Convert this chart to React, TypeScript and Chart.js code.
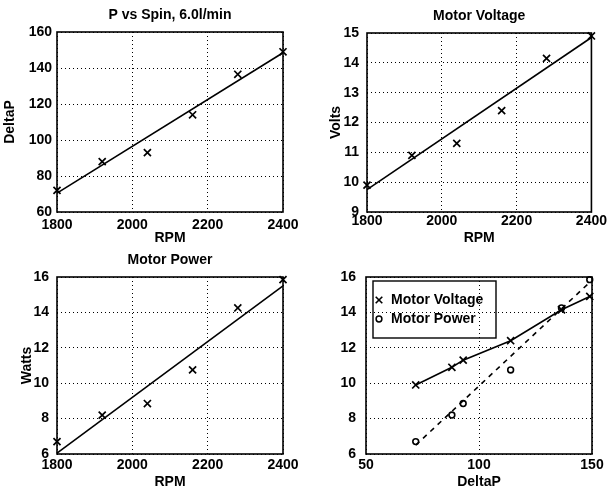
import React, { useEffect, useRef } from "react";
import { Chart, registerables } from "chart.js";

Chart.register(...registerables);

// ---- data ----
const rpm = [1800, 1920, 2040, 2160, 2280, 2400];
const deltaP = [72, 88, 93, 114, 136.5, 149];
const volts = [9.9, 10.9, 11.3, 12.4, 14.15, 14.9];
const watts = [6.7, 8.2, 8.85, 10.75, 14.25, 15.85];

const rpmFitEnds = [1800, 2400];
const deltaPFitEnds = [70.5, 148.5];
const voltsFitEnds = [9.75, 14.85];
const wattsFitEnds = [6.05, 15.5];

const powerFitDeltaPEnds = [72, 149];
const powerFitWattsEnds = [6.5, 15.7];

const panelTitles = ["P vs Spin, 6.0l/min", "Motor Voltage", "Motor Power", ""];
const xTitles = ["RPM", "RPM", "RPM", "DeltaP"];
const yTitles = ["DeltaP", "Volts", "Watts", ""];
const legendLabels = ["Motor Voltage", "Motor Power"];

const FONT_FAMILY = "'Liberation Sans', Arial, Helvetica, sans-serif";
const FONT_SIZE = 14;
const FONT_WEIGHT = "bold";

const pts = (xs: number[], ys: number[]) => xs.map((x, i) => ({ x, y: ys[i] }));

const crossSet = (xs: number[], ys: number[], showLine = false) => ({
  data: pts(xs, ys),
  showLine,
  borderColor: "#000",
  backgroundColor: "#000",
  borderWidth: 1.6,
  pointStyle: "crossRot",
  pointRadius: 5,
  pointBorderWidth: 1.7,
  clip: false,
});

const fitSet = (xs: number[], ys: number[], dash: number[] = []) => ({
  data: pts(xs, ys),
  showLine: true,
  borderColor: "#000",
  borderWidth: 1.6,
  borderDash: dash,
  pointRadius: 0,
  clip: false,
});

const circleSet = (xs: number[], ys: number[]) => ({
  data: pts(xs, ys),
  showLine: false,
  borderColor: "#000",
  backgroundColor: "rgba(0,0,0,0)",
  pointStyle: "circle",
  pointRadius: 2.9,
  pointBorderWidth: 1.6,
  clip: false,
});

const framePlugin = {
  id: "frame",
  afterDraw(chart: any, _args: any, opts: any) {
    const { ctx, chartArea: a } = chart;
    ctx.save();
    ctx.strokeStyle = "#000";
    ctx.lineWidth = 1.6;
    ctx.setLineDash([]);
    ctx.strokeRect(a.left, a.top, a.right - a.left, a.bottom - a.top);
    ctx.fillStyle = "#000";
    ctx.font = `${FONT_WEIGHT} ${FONT_SIZE}px ${FONT_FAMILY}`;
    if (opts.title) {
      ctx.textAlign = "center";
      ctx.textBaseline = "middle";
      ctx.fillText(opts.title, (a.left + a.right) / 2, a.top - 17);
    }
    if (opts.legend) {
      const bx = a.left + 7;
      const by = a.top + 4;
      const bw = 123;
      const bh = 57;
      ctx.lineWidth = 1.4;
      ctx.strokeRect(bx, by, bw, bh);
      ctx.textAlign = "left";
      ctx.textBaseline = "middle";
      const rows = [by + 19, by + 38];
      const mx = bx + 6;
      const r = 3.3;
      ctx.lineWidth = 1.6;
      ctx.beginPath();
      ctx.moveTo(mx - r, rows[0] - r);
      ctx.lineTo(mx + r, rows[0] + r);
      ctx.moveTo(mx - r, rows[0] + r);
      ctx.lineTo(mx + r, rows[0] - r);
      ctx.stroke();
      ctx.lineWidth = 1.5;
      ctx.beginPath();
      ctx.arc(mx, rows[1], 2.9, 0, Math.PI * 2);
      ctx.stroke();
      ctx.fillText(legendLabels[0], bx + 18, rows[0]);
      ctx.fillText(legendLabels[1], bx + 18, rows[1]);
    }
    ctx.restore();
  },
};

type Geom = {
  left: number;
  top: number;
  w: number;
  h: number;
  padLeft: number;
  areaLeft: number;
  areaTop: number;
  areaRight: number;
  areaBottom: number;
  yTickPad: number;
  xTickPad: number;
};

type PanelProps = {
  geom: Geom;
  title: string;
  xTitle: string;
  yTitle: string;
  xRange: number[];
  yRange: number[];
  datasets: any[];
  legend?: boolean;
};

function Panel({ geom, title, xTitle, yTitle, xRange, yRange, datasets, legend }: PanelProps) {
  const ref = useRef<HTMLCanvasElement | null>(null);
  useEffect(() => {
    if (!ref.current) return;
    const font = { family: FONT_FAMILY, size: FONT_SIZE, weight: FONT_WEIGHT as any };
    const titleFont = { family: FONT_FAMILY, size: FONT_SIZE, weight: FONT_WEIGHT as any, lineHeight: 1 };
    const plain = (v: any) => String(v);
    const chart = new Chart(ref.current, {
      type: "scatter",
      data: { datasets },
      plugins: [framePlugin],
      options: {
        animation: false,
        responsive: false,
        devicePixelRatio: 1,
        layout: {
          padding: {
            left: geom.padLeft,
            top: geom.areaTop,
            right: geom.w - geom.areaRight,
            bottom: 0,
          },
        },
        plugins: {
          legend: { display: false },
          tooltip: { enabled: false },
          frame: { title, legend: !!legend },
        } as any,
        scales: {
          x: {
            type: "linear",
            min: xRange[0],
            max: xRange[1],
            afterBuildTicks: (s: any) => {
              const t = [];
              for (let v = xRange[0]; v <= xRange[1] + 1e-9; v += xRange[2]) t.push({ value: v });
              s.ticks = t;
            },
            afterFit: (s: any) => {
              s.height = geom.h - geom.areaBottom;
            },
            ticks: { font, color: "#000", padding: geom.xTickPad, maxRotation: 0, autoSkip: false, callback: plain },
            grid: { color: "#000", lineWidth: 1, drawTicks: false },
            border: { display: false, dash: [1, 3] },
            title: { display: !!xTitle, text: xTitle, font: titleFont, color: "#000", padding: 0 },
          },
          y: {
            type: "linear",
            min: yRange[0],
            max: yRange[1],
            afterBuildTicks: (s: any) => {
              const t = [];
              for (let v = yRange[0]; v <= yRange[1] + 1e-9; v += yRange[2]) t.push({ value: v });
              s.ticks = t;
            },
            afterFit: (s: any) => {
              s.width = geom.areaLeft - geom.padLeft;
            },
            ticks: { font, color: "#000", padding: geom.yTickPad, autoSkip: false, callback: plain },
            grid: { color: "#000", lineWidth: 1, drawTicks: false },
            border: { display: false, dash: [1, 3] },
            title: { display: !!yTitle, text: yTitle, font: titleFont, color: "#000", padding: 0 },
          },
        },
      } as any,
    });
    return () => chart.destroy();
  }, []);
  return (
    <canvas
      ref={ref}
      width={geom.w}
      height={geom.h}
      style={{ position: "absolute", left: geom.left, top: geom.top, width: geom.w, height: geom.h }}
    />
  );
}

export default function App() {
  const g1: Geom = { left: 0, top: 0, w: 304, h: 245, padLeft: 3, areaLeft: 57, areaTop: 32, areaRight: 283, areaBottom: 212, yTickPad: 5, xTickPad: 5 };
  const g2: Geom = { left: 304, top: 0, w: 304, h: 245, padLeft: 25, areaLeft: 63, areaTop: 33, areaRight: 289, areaBottom: 212, yTickPad: 8, xTickPad: 1 };
  const g3: Geom = { left: 0, top: 245, w: 304, h: 244, padLeft: 20, areaLeft: 57, areaTop: 32, areaRight: 283, areaBottom: 209, yTickPad: 8, xTickPad: 3 };
  const g4: Geom = { left: 304, top: 245, w: 304, h: 244, padLeft: 0, areaLeft: 62, areaTop: 32, areaRight: 288, areaBottom: 209, yTickPad: 10, xTickPad: 3 };

  return (
    <div style={{ position: "fixed", left: 0, top: 0, width: 608, height: 489, background: "#fff", overflow: "hidden" }}>
      <Panel
        geom={g1}
        title={panelTitles[0]}
        xTitle={xTitles[0]}
        yTitle={yTitles[0]}
        xRange={[1800, 2400, 200]}
        yRange={[60, 160, 20]}
        datasets={[crossSet(rpm, deltaP), fitSet(rpmFitEnds, deltaPFitEnds)]}
      />
      <Panel
        geom={g2}
        title={panelTitles[1]}
        xTitle={xTitles[1]}
        yTitle={yTitles[1]}
        xRange={[1800, 2400, 200]}
        yRange={[9, 15, 1]}
        datasets={[crossSet(rpm, volts), fitSet(rpmFitEnds, voltsFitEnds)]}
      />
      <Panel
        geom={g3}
        title={panelTitles[2]}
        xTitle={xTitles[2]}
        yTitle={yTitles[2]}
        xRange={[1800, 2400, 200]}
        yRange={[6, 16, 2]}
        datasets={[crossSet(rpm, watts), fitSet(rpmFitEnds, wattsFitEnds)]}
      />
      <Panel
        geom={g4}
        title={panelTitles[3]}
        xTitle={xTitles[3]}
        yTitle={yTitles[3]}
        xRange={[50, 150, 50]}
        yRange={[6, 16, 2]}
        legend
        datasets={[
          crossSet(deltaP, volts, true),
          circleSet(deltaP, watts),
          fitSet(powerFitDeltaPEnds, powerFitWattsEnds, [5, 5]),
        ]}
      />
    </div>
  );
}
